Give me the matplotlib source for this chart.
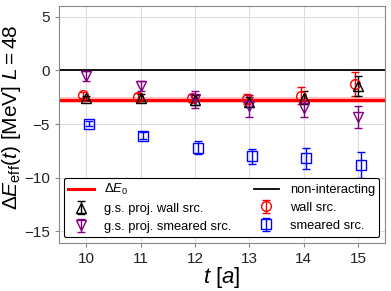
import matplotlib
matplotlib.use("Agg")
import matplotlib.pyplot as plt
import numpy as np

plt.rcParams['font.family'] = ['Liberation Sans', 'DejaVu Sans']
plt.rcParams['mathtext.fontset'] = 'custom'
plt.rcParams['mathtext.rm'] = 'Liberation Sans'
plt.rcParams['mathtext.it'] = 'Liberation Sans:italic'

t = np.array([10, 11, 12, 13, 14, 15])

# wall source
wall = np.array([-2.3, -2.45, -2.6, -2.7, -2.35, -1.3])
wall_err = np.array([0.25, 0.3, 0.35, 0.45, 0.75, 1.1])
# smeared source
smeared = np.array([-4.98, -6.07, -7.2, -8.0, -8.2, -8.8])
smeared_err = np.array([0.25, 0.3, 0.6, 0.7, 0.95, 1.2])
# ground-state projected, wall source
gs_wall = np.array([-2.55, -2.55, -2.75, -2.95, -2.55, -1.45])
gs_wall_err = np.array([0.2, 0.3, 0.45, 0.5, 0.6, 0.95])
# ground-state projected, smeared source
gs_smeared = np.array([-0.53, -1.47, -2.7, -3.33, -3.55, -4.36])
gs_smeared_err = np.array([0.47, 0.5, 0.78, 1.05, 0.8, 1.04])

dE0 = -2.78
dE0_err = 0.27
non_int = 0.0

fig, ax = plt.subplots(figsize=(3.91, 2.91), dpi=100)
fig.subplots_adjust(left=0.151, right=0.985, top=0.980, bottom=0.164)

ax.grid(True, color='#dddddd', lw=0.8)
ax.set_axisbelow(True)
for s in ax.spines.values():
    s.set_color('#888888')
ax.tick_params(colors='#222222', labelsize=11, length=3, color='#888888')

xl = (9.5, 15.5)
ax.axhspan(dE0 - dE0_err, dE0 + dE0_err, color='red', alpha=0.25, lw=0)
h_e0, = ax.plot(xl, [dE0, dE0], color='red', lw=2.2, label=r'$\Delta E_0$')
h_ni = ax.axhline(non_int, color='black', lw=1.3, label='non-interacting')

kw = dict(ls='none', mfc='none', capsize=3, elinewidth=1, capthick=1)
h_w = ax.errorbar(t - 0.05, wall, wall_err, marker='o', ms=7, color='red',
                  label='wall src.', **kw)
h_s = ax.errorbar(t + 0.05, smeared, smeared_err, marker='s', ms=6.5, color='blue',
                  label='smeared src.', **kw)
h_gw = ax.errorbar(t, gs_wall, gs_wall_err, marker='^', ms=7, color='black',
                   label='g.s. proj. wall src.', **kw)
h_gs = ax.errorbar(t, gs_smeared, gs_smeared_err, marker='v', ms=7, color='purple',
                   label='g.s. proj. smeared src.', **kw)

ax.set_xlim(*xl)
ax.set_ylim(-16.1, 6.0)
ax.set_yticks([5, 0, -5, -10, -15])
ax.set_xticks(t)
ax.set_xlabel(r'$t$ [$a$]', fontsize=16)
ax.xaxis.set_label_coords(0.5, -0.092)
ax.set_ylabel(r'$\Delta E_{\rm eff}(t)$ [MeV] $L=48$', fontsize=15)
ax.yaxis.set_label_coords(-0.112, 0.53)

handles = [h_e0, h_gw, h_gs, h_ni, h_w, h_s]
leg = ax.legend(handles, [h.get_label() for h in handles],
                ncol=2, loc='lower right', fontsize=9.3, framealpha=1,
                edgecolor='black', borderaxespad=0.45, columnspacing=1.7,
                handlelength=2.0, labelspacing=0.45, borderpad=0.35)
leg.get_frame().set_linewidth(0.8)

fig.savefig('out.png', dpi=100)
